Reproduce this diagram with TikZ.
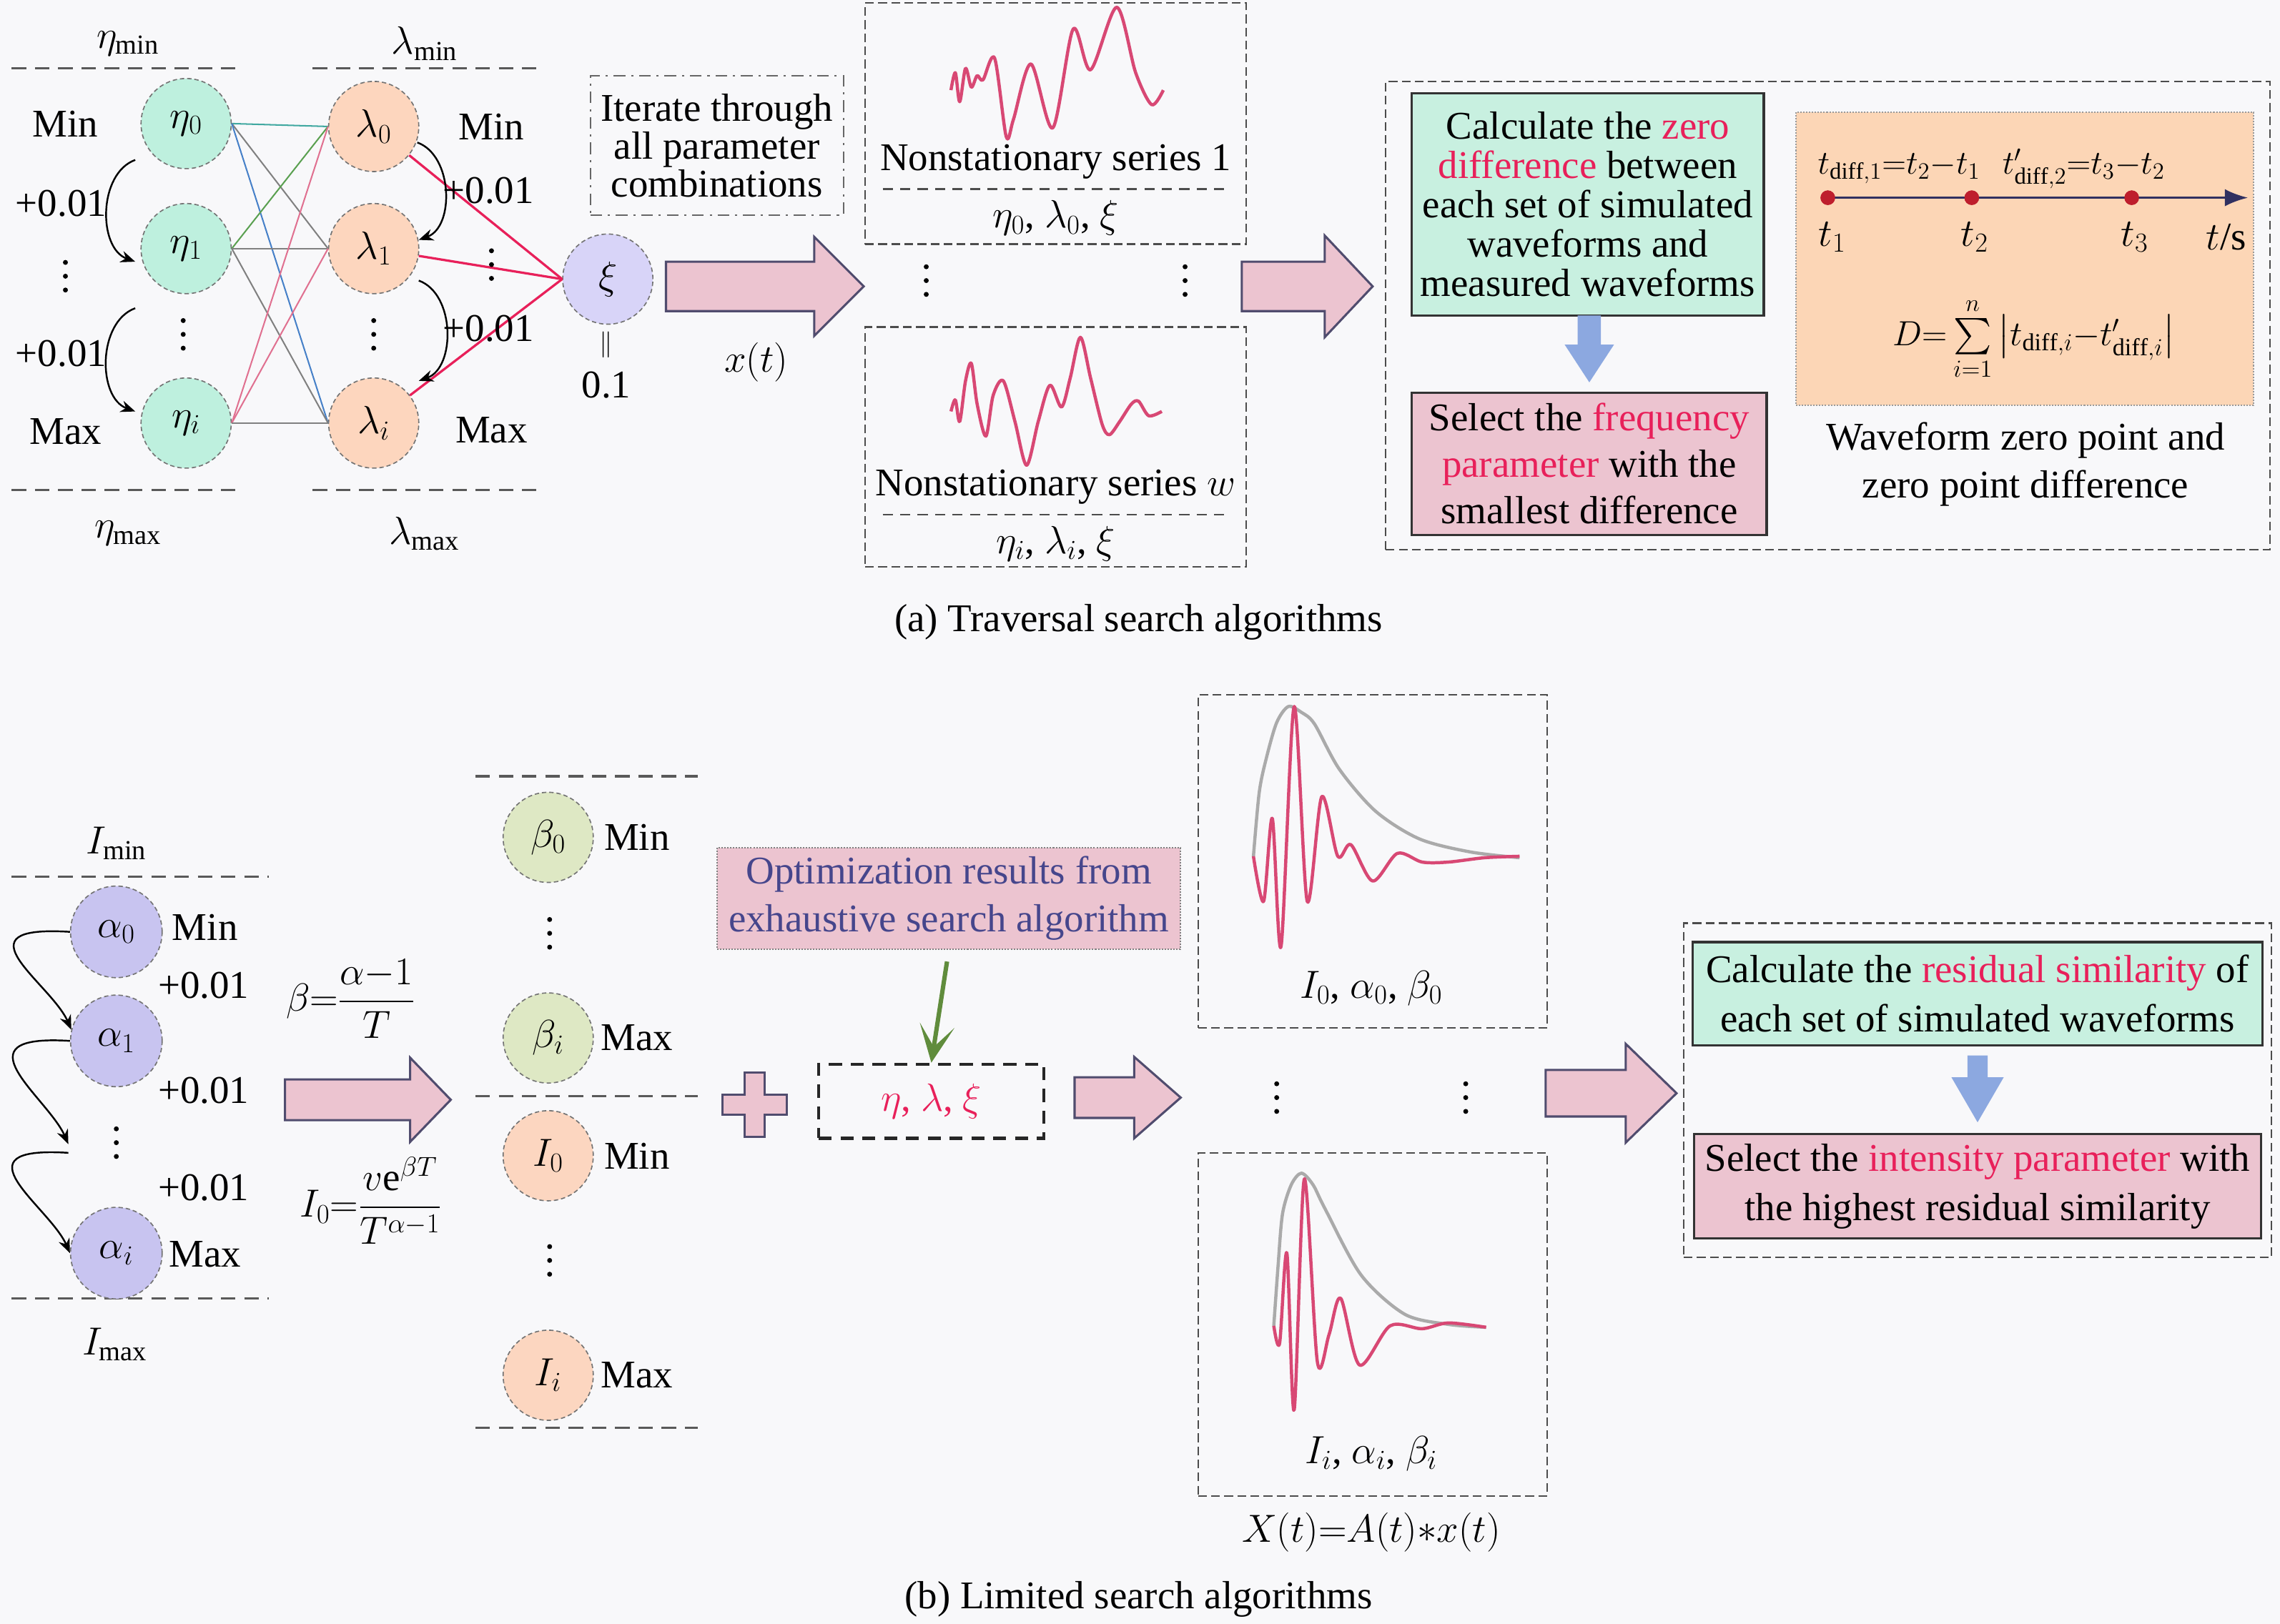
\documentclass[tikz,border=0pt]{standalone}
\usepackage{fix-cm}
\usepackage{amsmath}
\usepackage{fontspec}
\setmainfont{Liberation Serif}
\usetikzlibrary{arrows.meta}
\definecolor{bgcol}{RGB}{248,248,250}
\definecolor{etafill}{RGB}{190,240,222}
\definecolor{lamfill}{RGB}{253,214,190}
\definecolor{xifill}{RGB}{216,212,248}
\definecolor{alphafill}{RGB}{200,196,240}
\definecolor{betafill}{RGB}{222,232,196}
\definecolor{ifill}{RGB}{252,214,192}
\definecolor{pinkfill}{RGB}{236,196,208}
\definecolor{mintfill}{RGB}{200,240,224}
\definecolor{peachfill}{RGB}{252,214,182}
\definecolor{hot}{RGB}{232,32,90}
\definecolor{wavered}{RGB}{216,72,116}
\definecolor{envgray}{RGB}{170,170,170}
\definecolor{arrowedge}{RGB}{80,76,110}
\definecolor{bluearrow}{RGB}{140,168,224}
\definecolor{optblue}{RGB}{70,70,140}
\definecolor{leafgreen}{RGB}{96,140,60}
\definecolor{navy}{RGB}{48,48,96}
\definecolor{dotred}{RGB}{190,30,45}
\definecolor{linkteal}{RGB}{64,168,160}
\definecolor{linkblue}{RGB}{70,128,200}
\definecolor{linkgray}{RGB}{128,128,128}
\definecolor{linkgreen}{RGB}{90,160,80}
\definecolor{linkpink}{RGB}{224,112,144}

\begin{document}
\begin{tikzpicture}[x=1pt,y=1pt,font=\fontsize{27}{27}\selectfont,inner sep=1pt]
    \tikzstyle{param}=[circle,draw=black!55,densely dashed,line width=0.8pt,minimum size=62pt,inner sep=0pt]
    \tikzstyle{sep}=[draw=black!65,dash pattern=on 10pt off 6pt,line width=1.6pt]
    \tikzstyle{frame}=[draw=black!70,dash pattern=on 6pt off 3pt,line width=1.2pt]
    \tikzstyle{incr}=[-{Stealth[length=10pt,width=8pt]},line width=1.2pt]
    \tikzstyle{wave}=[wavered,line width=2.2pt,line join=round]
    \tikzstyle{envelope}=[envgray,line width=2.2pt]
    \tikzstyle{blockarrow}=[fill=pinkfill,draw=arrowedge,line width=1.5pt]
    \tikzstyle{calcbox}=[fill=mintfill,draw=black!80,line width=1.6pt,inner sep=0pt,align=center]
    \tikzstyle{selbox}=[fill=pinkfill,draw=black!80,line width=1.6pt,inner sep=0pt,align=center]

    \fill[bgcol] (0,0) rectangle (1568,-1117);
    \useasboundingbox (0,0) rectangle (1568,-1117);

    % (a) traversal search
    \draw[sep] (8,-47) -- (165,-47);
    \draw[sep] (215,-47) -- (370,-47);
    \draw[sep] (8,-337) -- (165,-337);
    \draw[sep] (215,-337) -- (370,-337);
    \node (etaMinLab) at (88,-30) {$\eta_{\mathrm{min}}$};
    \node (lamMinLab) at (292,-30) {$\lambda_{\mathrm{min}}$};
    \node (etaMaxLab) at (88,-367) {$\eta_{\mathrm{max}}$};
    \node (lamMaxLab) at (292,-367) {$\lambda_{\mathrm{max}}$};

    \foreach \n/\y in {0/85,1/171,i/291}
    \node[param,fill=etafill] (eta-\n) at (128,-\y) {$\eta_\n$};
    \foreach \n/\y in {0/87,1/171,i/291}
    \node[param,fill=lamfill] (lam-\n) at (257,-\y) {$\lambda_\n$};
    \node[param,fill=xifill] (xi) at (418,-192) {$\xi$};

    \foreach \a/\b/\c in {0/0/linkteal,0/1/linkgray,0/i/linkblue,1/0/linkgreen,1/1/linkgray,1/i/linkgray,i/0/linkpink,i/1/linkpink,i/i/linkgray}
    \draw[\c,line width=1pt] (eta-\a.east) -- (lam-\b.west);
    \foreach \b in {0,1,i}
    \draw[hot,line width=1.6pt] (lam-\b) -- (xi.west);

    \node (etaMin) at (45,-85) {Min};
    \node (etaMax) at (45,-297) {Max};
    \node (etaStepA) at (42,-140) {+0.01};
    \node (etaStepB) at (42,-243) {+0.01};
    \node (lamMin) at (338,-87) {Min};
    \node (lamMax) at (338,-296) {Max};
    \node (lamStepA) at (336,-131) {+0.01};
    \node (lamStepB) at (336,-226) {+0.01};

    % vertical ellipses
    \foreach \x/\y in {45/190,126/230,257/230,338/182,637/193,815/193,80/786,378/642,378/867,878/755,1008/755}
    \foreach \d in {-9.5,0,9.5}
    \fill ({\x},{-\y+\d}) circle (1.7pt);

    \coordinate (etaA1) at (93,-110);
    \coordinate (etaA2) at (93,-180);
    \coordinate (etaA3) at (93,-212);
    \coordinate (etaA4) at (93,-283);
    \draw[incr] (etaA1) to[out=200,in=160] (etaA2);
    \draw[incr] (etaA3) to[out=200,in=160] (etaA4);
    \coordinate (lamA1) at (287,-98);
    \coordinate (lamA2) at (288,-165);
    \coordinate (lamA3) at (288,-193);
    \coordinate (lamA4) at (288,-262);
    \draw[incr] (lamA1) to[out=-20,in=20] (lamA2);
    \draw[incr] (lamA3) to[out=-20,in=20] (lamA4);

    \node (xiEq) at (417,-237) {\fontsize{18}{18}\selectfont$\|$};
    \node (xiVal) at (417,-265) {0.1};
    \node[draw=black!60,dash pattern=on 8pt off 4pt on 1.5pt off 4pt,line width=1pt,minimum width=174pt,minimum height=96pt,inner sep=0pt,align=center,font=\fontsize{27}{26}\selectfont] (iter) at (493,-100) {Iterate through\\all parameter\\combinations};
    \node (xt) at (520,-249) {$x(t)$};

    \node[frame,minimum width=262pt,minimum height=166pt] (ser-1) at (726,-85) {};
    \node[frame,minimum width=262pt,minimum height=165pt] (ser-w) at (726,-307.5) {};
    \draw[wave] plot[smooth] coordinates {(654,-62) (657,-50) (660,-70) (664,-47) (668,-60) (672,-52) (676,-55) (684,-40) (692,-94) (697,-82) (709,-44) (724,-88) (738,-20) (750,-48) (768,-5) (781,-50) (792,-72) (800,-62)};
    \draw[wave] plot[smooth] coordinates {(654,-283) (657,-275) (660,-290) (664,-262) (668,-250) (672,-278) (678,-300) (683,-272) (690,-262) (698,-290) (706,-320) (714,-290) (722,-265) (730,-280) (736,-260) (743,-232) (750,-260) (758,-292) (763,-299) (770,-290) (778,-278) (783,-276) (790,-286) (799,-283)};
    \node (ser1Lab) at (726,-111) {Nonstationary series 1};
    \draw[draw=black!70,dash pattern=on 7pt off 5pt,line width=1.2pt] (607,-130) -- (846,-130);
    \node (ser1Par) at (726,-150) {$\eta_0$, $\lambda_0$, $\xi$};
    \node (serwLab) at (726,-335) {Nonstationary series $w$};
    \draw[draw=black!70,dash pattern=on 7pt off 5pt,line width=1.2pt] (607,-354) -- (846,-354);
    \node (serwPar) at (726,-374) {$\eta_i$, $\lambda_i$, $\xi$};

    \node[frame,minimum width=608pt,minimum height=322pt] (zeroBox) at (1257,-217) {};
    \node[calcbox,minimum width=242pt,minimum height=153pt] (calc) at (1092,-140.5) {Calculate the \textcolor{hot}{zero}\\\textcolor{hot}{difference} between\\each set of simulated\\waveforms and\\measured waveforms};
    \node[selbox,minimum width=244pt,minimum height=98pt,font=\fontsize{27}{32}\selectfont] (selFreq) at (1093,-319) {Select the \textcolor{hot}{frequency}\\\textcolor{hot}{parameter} with the\\smallest difference};
    \node[fill=peachfill,draw=black!40,densely dotted,line width=1pt,minimum width=315pt,minimum height=202pt] (zeroPlot) at (1392.5,-178) {};
    \foreach \n/\x in {1/1257,2/1356,3/1466}
    \node[circle,fill=dotred,inner sep=0pt,minimum size=10pt] (tdot-\n) at (\x,-136) {};
    \coordinate (tEnd) at (1546,-136);
    \draw[navy,line width=1.8pt,-{Latex[length=16pt,width=12pt]}] (tdot-1.center) -- (tEnd);
    \foreach \n in {1,2,3}
    \fill[dotred] (tdot-\n) circle (5pt);
    \foreach \n/\x in {1/1260,2/1358,3/1468}
    \node (tlab-\n) at (\x,-163) {$t_\n$};
    \node (tUnit) at (1531,-163) {$t$/s};
    \node[font=\fontsize{23}{23}\selectfont] (tdiffA) at (1306,-116) {$t_{\mathrm{diff},1}{=}t_2{-}t_1$};
    \node[font=\fontsize{23}{23}\selectfont] (tdiffB) at (1433,-116) {$t'_{\mathrm{diff},2}{=}t_3{-}t_2$};
    \node[font=\fontsize{24}{24}\selectfont] (dsum) at (1399,-233) {$D{=}\sum\limits_{i=1}^{n}\left|t_{\mathrm{diff},i}{-}t'_{\mathrm{diff},i}\right|$};
    \node[align=center,font=\fontsize{27}{33}\selectfont] (zeroCap) at (1393,-319.5) {Waveform zero point and\\zero point difference};

    \node (capA) at (783,-428) {(a) Traversal search algorithms};

    % (b) limited search
    \draw[sep] (8,-603) -- (185,-603);
    \draw[sep] (8,-893) -- (185,-893);
    \draw[sep] (327,-534) -- (480,-534);
    \draw[sep] (327,-754) -- (480,-754);
    \draw[sep] (327,-982) -- (480,-982);
    \node (iMinLab) at (80,-580) {$I_{\mathrm{min}}$};
    \node (iMaxLab) at (79,-925) {$I_{\mathrm{max}}$};

    \foreach \n/\y in {0/641,1/716,i/862}
    \node[param,fill=alphafill,minimum size=63pt] (alpha-\n) at (80,-\y) {$\alpha_\n$};
    \node (alphaMin) at (141,-638) {Min};
    \node (alphaMax) at (141,-863) {Max};
    \foreach \k/\y in {A/678,B/750,C/817}
    \node (alphaStep\k) at (140,-\y) {+0.01};
    \coordinate (alphaMidIn) at (47,-787);
    \coordinate (alphaMidOut) at (47,-793);
    \draw[incr] (alpha-0.west) .. controls +(-80,5) and +(-14,32) .. (alpha-1.166);
    \draw[incr] (alpha-1.west) .. controls +(-80,5) and +(-14,32) .. (alphaMidIn);
    \draw[incr] (alphaMidOut) .. controls +(-80,5) and +(-14,32) .. (alpha-i.west);

    \node (betaEq) at (241,-687) {$\beta{=}\dfrac{\alpha{-}1}{T}$};
    \node (iEq) at (255,-826) {$I_0{=}\dfrac{v\mathrm{e}^{\beta T}}{T^{\alpha-1}}$};

    \node[param,fill=betafill] (beta-0) at (377,-576) {$\beta_0$};
    \node[param,fill=betafill] (beta-i) at (377,-714) {$\beta_i$};
    \node[param,fill=ifill] (int-0) at (377,-795) {$I_0$};
    \node[param,fill=ifill] (int-i) at (377,-946) {$I_i$};
    \foreach \n/\y/\t in {bA/576/Min,bB/714/Max,iA/795/Min,iB/946/Max}
    \node (lim-\n) at (438,-\y) {\t};

    \draw[blockarrow] (512,-738) -- (526,-738) -- (526,-753) -- (541,-753) -- (541,-767) -- (526,-767) -- (526,-782) -- (512,-782) -- (512,-767) -- (497,-767) -- (497,-753) -- (512,-753) -- cycle;
    \node[fill=pinkfill,draw=black!50,densely dotted,line width=1pt,minimum width=319pt,minimum height=70pt,inner sep=0pt,align=center,text=optblue,font=\fontsize{27}{33}\selectfont] (opt) at (652.5,-618) {Optimization results from\\exhaustive search algorithm};
    \node[draw=black!85,dash pattern=on 9pt off 6pt,line width=2pt,minimum width=155pt,minimum height=51pt] (params) at (640.5,-757.5) {\textcolor{hot}{$\eta$, $\lambda$, $\xi$}};
    \draw[leafgreen,line width=3pt,shorten <=8pt,-{Stealth[length=26pt,width=24pt,inset=15pt]}] (opt.south) -- (params.north);

    \node[frame,minimum width=240pt,minimum height=229pt] (wb-0) at (944,-592.5) {};
    \node[frame,minimum width=240pt,minimum height=236pt] (wb-i) at (944,-911) {};
    \draw[envelope] plot[smooth] coordinates {(862,-589) (866,-545) (871,-521) (878,-497) (886,-486) (895,-490) (904,-498) (921,-529) (946,-558) (976,-577) (1011,-586) (1045,-590)};
    \draw[wave] plot[smooth] coordinates {(862,-589) (869,-620) (875,-563) (881,-651) (890,-486) (899,-620) (909,-548) (920,-589) (929,-581) (944,-606) (961,-587) (978,-593) (996,-593) (1021,-590) (1045,-589)};
    \draw[envelope] plot[smooth] coordinates {(876,-912) (879,-870) (882,-835) (888,-815) (895,-807) (903,-815) (911,-831) (936,-877) (966,-904) (996,-911) (1022,-913)};
    \draw[wave] plot[smooth] coordinates {(876,-912) (880,-924) (885,-862) (890,-970) (897,-811) (906,-937) (914,-918) (922,-893) (935,-939) (956,-912) (978,-914) (996,-910) (1022,-913)};
    \node (wb0Par) at (943,-680) {$I_0$, $\alpha_0$, $\beta_0$};
    \node (wbiPar) at (943,-1000) {$I_i$, $\alpha_i$, $\beta_i$};
    \node (conv) at (943,-1054) {$X(t){=}A(t){*}x(t)$};

    \node[frame,minimum width=404pt,minimum height=230pt] (simBox) at (1360,-750) {};
    \node[calcbox,minimum width=392pt,minimum height=71pt,font=\fontsize{27}{34}\selectfont] (resid) at (1360,-683.5) {Calculate the \textcolor{hot}{residual similarity} of\\each set of simulated waveforms};
    \node[selbox,minimum width=390pt,minimum height=72pt,font=\fontsize{27}{34}\selectfont] (selInt) at (1360,-816) {Select the \textcolor{hot}{intensity parameter} with\\the highest residual similarity};

    \foreach \xa/\xh/\xt/\yc/\bw/\hw in {458/560/594/-197/17/34,854/911/944/-197/17/35,196/282/310/-756.5/14/29,739/780/812/-755/14/28,1063/1118/1153/-752/16/34}
    \draw[blockarrow] ({\xa},{\yc+\bw}) -- ({\xh},{\yc+\bw}) -- ({\xh},{\yc+\hw}) -- ({\xt},{\yc}) -- ({\xh},{\yc-\hw}) -- ({\xh},{\yc-\bw}) -- ({\xa},{\yc-\bw}) -- cycle;
    \foreach \xc/\ya/\yh/\yt/\sw/\hw in {1093/-217/-237/-263/8/17,1360/-726/-741/-772/7/18}
    \fill[bluearrow] ({\xc-\sw},{\ya}) -- ({\xc+\sw},{\ya}) -- ({\xc+\sw},{\yh}) -- ({\xc+\hw},{\yh}) -- ({\xc},{\yt}) -- ({\xc-\hw},{\yh}) -- ({\xc-\sw},{\yh}) -- cycle;

    \node (capB) at (783,-1100) {(b) Limited search algorithms};
\end{tikzpicture}
\end{document}
